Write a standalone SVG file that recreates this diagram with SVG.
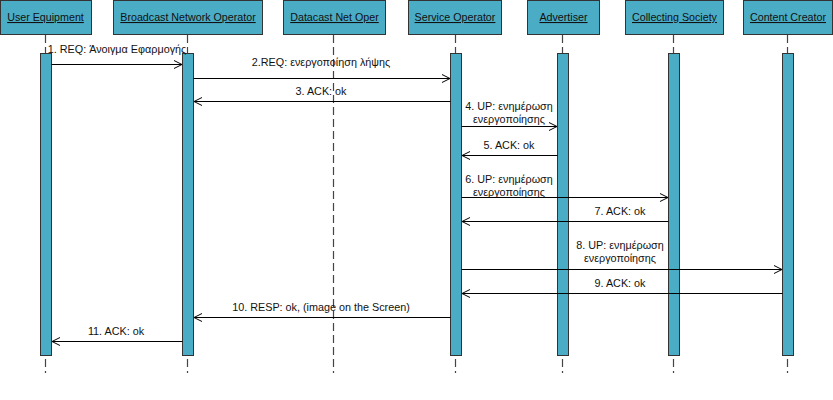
<svg xmlns="http://www.w3.org/2000/svg" width="833" height="400" viewBox="0 0 833 400">
<style>
.hdr{fill:#4bacc6;stroke:#333;stroke-width:1}
.bar{fill:#4bacc6;stroke:#333;stroke-width:1}
.life{stroke:#444;stroke-width:1.2;stroke-dasharray:8,4;fill:none}
.ht{font-family:"Liberation Sans",Arial,sans-serif;font-size:10.7px;fill:#111;text-anchor:middle;text-decoration:underline}
.msg{stroke:#000;stroke-width:1;fill:none;marker-end:url(#arr)}
.mt{font-family:"Liberation Sans",Arial,sans-serif;font-size:10.8px;fill:#111;text-anchor:middle}
</style>
<defs>
<marker id="arr" markerWidth="10" markerHeight="10" refX="9" refY="5" orient="auto" markerUnits="userSpaceOnUse">
<path d="M1,1 L9,5 L1,9" fill="none" stroke="#000" stroke-width="1"/>
</marker>
</defs>
<rect width="833" height="400" fill="#fff"/>
<g id="user-equipment">
<line class="life" x1="45.5" y1="35" x2="45.5" y2="373"/>
<rect class="hdr" x="0.5" y="0.5" width="91" height="34"/>
<text class="ht" x="45.5" y="21">User Equipment</text>
<rect class="bar" x="40.5" y="53.5" width="11" height="302"/>
</g>
<g id="broadcast-network-operator">
<line class="life" x1="187.5" y1="35" x2="187.5" y2="373"/>
<rect class="hdr" x="113.5" y="0.5" width="149" height="34"/>
<text class="ht" x="188" y="21">Broadcast Network Operator</text>
<rect class="bar" x="182.5" y="53.5" width="11" height="302"/>
</g>
<g id="datacast-net-oper">
<line class="life" x1="333.5" y1="35" x2="333.5" y2="373"/>
<rect class="hdr" x="283.5" y="0.5" width="102" height="34"/>
<text class="ht" x="334.5" y="21">Datacast Net Oper</text>
</g>
<g id="service-operator">
<line class="life" x1="455.5" y1="35" x2="455.5" y2="373"/>
<rect class="hdr" x="408.5" y="0.5" width="93" height="34"/>
<text class="ht" x="455" y="21">Service Operator</text>
<rect class="bar" x="450.5" y="53.5" width="11" height="302"/>
</g>
<g id="advertiser">
<line class="life" x1="562.5" y1="35" x2="562.5" y2="373"/>
<rect class="hdr" x="527.5" y="0.5" width="72" height="34"/>
<text class="ht" x="563.5" y="21">Advertiser</text>
<rect class="bar" x="557.5" y="53.5" width="11" height="302"/>
</g>
<g id="collecting-society">
<line class="life" x1="673.5" y1="35" x2="673.5" y2="373"/>
<rect class="hdr" x="625.5" y="0.5" width="98" height="34"/>
<text class="ht" x="674.5" y="21">Collecting Society</text>
<rect class="bar" x="668.5" y="53.5" width="11" height="302"/>
</g>
<g id="content-creator">
<line class="life" x1="787.5" y1="35" x2="787.5" y2="373"/>
<rect class="hdr" x="743.5" y="0.5" width="89" height="34"/>
<text class="ht" x="788" y="21">Content Creator</text>
<rect class="bar" x="782.5" y="53.5" width="11" height="302"/>
</g>
<g id="connectors">
<line class="msg" x1="51.5" y1="64.5" x2="182" y2="64.5"/>
<line class="msg" x1="193.5" y1="78.5" x2="450" y2="78.5"/>
<line class="msg" x1="450.5" y1="101.5" x2="194" y2="101.5"/>
<line class="msg" x1="461.5" y1="126.5" x2="557" y2="126.5"/>
<line class="msg" x1="557.5" y1="155.5" x2="462" y2="155.5"/>
<line class="msg" x1="461.5" y1="197.5" x2="668" y2="197.5"/>
<line class="msg" x1="668.5" y1="221.5" x2="462" y2="221.5"/>
<line class="msg" x1="461.5" y1="269.5" x2="782" y2="269.5"/>
<line class="msg" x1="782.5" y1="293.5" x2="462" y2="293.5"/>
<line class="msg" x1="450.5" y1="317.5" x2="194" y2="317.5"/>
<line class="msg" x1="182.5" y1="341.5" x2="52" y2="341.5"/>
<text class="mt" x="117" y="53">1. REQ: Άνοιγμα Εφαρμογής</text>
<text class="mt" x="321" y="66">2.REQ: ενεργοποίηση λήψης</text>
<text class="mt" x="321" y="95">3. ACK: ok</text>
<text class="mt" x="509" y="110">4. UP: ενημέρωση</text>
<text class="mt" x="509" y="123">ενεργοποίησης</text>
<text class="mt" x="509" y="149">5. ACK: ok</text>
<text class="mt" x="509" y="183">6. UP: ενημέρωση</text>
<text class="mt" x="509" y="196">ενεργοποίησης</text>
<text class="mt" x="620" y="215">7. ACK: ok</text>
<text class="mt" x="620" y="249">8. UP: ενημέρωση</text>
<text class="mt" x="620" y="262">ενεργοποίησης</text>
<text class="mt" x="620" y="287">9. ACK: ok</text>
<text class="mt" x="321" y="311">10. RESP: ok, (image on the Screen)</text>
<text class="mt" x="116" y="335">11. ACK: ok</text>
</g>
</svg>
